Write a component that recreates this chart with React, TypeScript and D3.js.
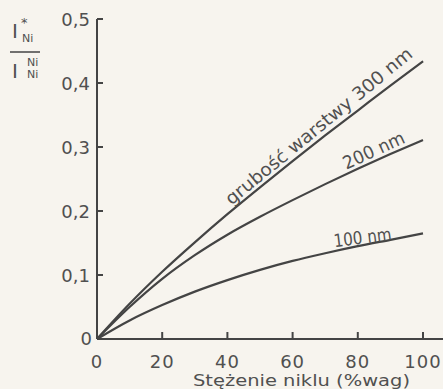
import * as d3 from "d3";
import { useEffect, useRef } from "react";

const WIDTH = 443;
const HEIGHT = 389;

// concentration of nickel (% wag) and intensity ratio for each layer thickness
const conc = [0, 10, 20, 30, 40, 50, 60, 70, 80, 90, 100];
const ratio300 = [0, 0.055, 0.105, 0.151, 0.195, 0.237, 0.278, 0.318, 0.357, 0.396, 0.434];
const ratio200 = [0, 0.05, 0.094, 0.131, 0.163, 0.191, 0.217, 0.242, 0.266, 0.289, 0.311];
const ratio100 = [0, 0.029, 0.053, 0.074, 0.092, 0.108, 0.122, 0.134, 0.145, 0.155, 0.165];

const xTicks = [0, 20, 40, 60, 80, 100];
const yTicks = [0.1, 0.2, 0.3, 0.4, 0.5];
const yTickLabels = ["0,1", "0,2", "0,3", "0,4", "0,5"];

const seriesLabels = ["grubość warstwy 300 nm", "200 nm", "100 nm"];
const labelStart = [42, 77, 73];
const labelLength = [236, 66, 58];
const xTitle = "Stężenie niklu (%wag)";

const INK = "#444";
const TEXT = "#505050";
const FONT = "'DejaVu Sans', sans-serif";

export default function App() {
    const svgRef = useRef<SVGSVGElement | null>(null);

    useEffect(() => {
        if (!svgRef.current) return;
        const svg = d3.select(svgRef.current);
        svg.selectAll("*").remove();

        const x = d3.scaleLinear().domain([0, 100]).range([97, 423]);
        const y = d3.scaleLinear().domain([0, 0.5]).range([339, 19]);

        svg.append("rect").attr("width", WIDTH).attr("height", HEIGHT).attr("fill", "#f7f4ee");

        // axes
        const axes = svg.append("g").attr("stroke", INK).attr("stroke-width", 2).attr("fill", "none");
        axes.append("line").attr("x1", x(0)).attr("x2", WIDTH).attr("y1", y(0)).attr("y2", y(0));
        axes.append("line").attr("x1", x(0)).attr("x2", x(0)).attr("y1", y(0)).attr("y2", y(0.5));
        xTicks.slice(1).forEach((t) => {
            axes.append("line").attr("x1", x(t)).attr("x2", x(t)).attr("y1", y(0)).attr("y2", y(0) - 7);
        });
        yTicks.forEach((t) => {
            axes.append("line").attr("x1", x(0)).attr("x2", x(0) + 6).attr("y1", y(t)).attr("y2", y(t));
        });

        const txt = svg.append("g").attr("fill", TEXT).attr("font-family", FONT).attr("font-size", 18);
        xTicks.forEach((t) => {
            txt.append("text").attr("x", x(t)).attr("y", 368).attr("text-anchor", "middle").attr("letter-spacing", 1).text(String(t));
        });
        yTicks.forEach((t, i) => {
            txt.append("text").attr("x", x(0) - 7).attr("y", y(t) + 7).attr("text-anchor", "end").text(yTickLabels[i]);
        });
        txt.append("text").attr("x", x(0) - 5).attr("y", y(0) + 6).attr("text-anchor", "end").text("0");
        txt.append("text")
            .attr("x", 193)
            .attr("y", 386)
            .attr("font-size", 15)
            .attr("textLength", 217)
            .attr("lengthAdjust", "spacingAndGlyphs")
            .text(xTitle);

        // y-axis title: I*_Ni / I^Ni_Ni
        const yt = svg.append("g").attr("fill", TEXT).attr("font-family", FONT);
        yt.append("text").attr("x", 12).attr("y", 38).attr("font-size", 20).text("I");
        yt.append("text").attr("x", 21).attr("y", 27).attr("font-size", 13).text("*");
        yt.append("text").attr("x", 22).attr("y", 42).attr("font-size", 11).text("Ni");
        yt.append("line").attr("x1", 10).attr("x2", 40).attr("y1", 52).attr("y2", 52).attr("stroke", INK).attr("stroke-width", 1.5);
        yt.append("text").attr("x", 12).attr("y", 78).attr("font-size", 20).text("I");
        yt.append("text").attr("x", 27).attr("y", 66).attr("font-size", 11).text("Ni");
        yt.append("text").attr("x", 27).attr("y", 78).attr("font-size", 11).text("Ni");

        // curves
        const series = [ratio300, ratio200, ratio100];
        const line = d3
            .line<number>()
            .x((_, i) => x(conc[i]))
            .y((d) => y(d))
            .curve(d3.curveMonotoneX);
        series.forEach((s) => {
            svg.append("path").datum(s).attr("d", line).attr("fill", "none").attr("stroke", INK).attr("stroke-width", 2.2);
        });

        // labels along curves
        series.forEach((s, k) => {
            const xs = labelStart[k];
            const yv = d3.scaleLinear().domain(conc).range(s);
            const p0 = [x(xs), y(yv(xs))];
            const p1 = [x(xs + 10), y(yv(xs + 10))];
            let angle = (Math.atan2(p1[1] - p0[1], p1[0] - p0[0]) * 180) / Math.PI;
            if (k === 2) angle = -7;
            svg.append("text")
                .attr("transform", `translate(${p0[0]},${p0[1]}) rotate(${angle}) translate(0,-4)`)
                .attr("fill", TEXT)
                .attr("font-family", FONT)
                .attr("font-size", 18)
                .attr("textLength", labelLength[k])
                .attr("lengthAdjust", "spacingAndGlyphs")
                .text(seriesLabels[k]);
        });
    }, []);

    return (
        <svg
            ref={svgRef}
            width={WIDTH}
            height={HEIGHT}
            style={{ position: "absolute", left: 0, top: 0, display: "block" }}
        />
    );
}
